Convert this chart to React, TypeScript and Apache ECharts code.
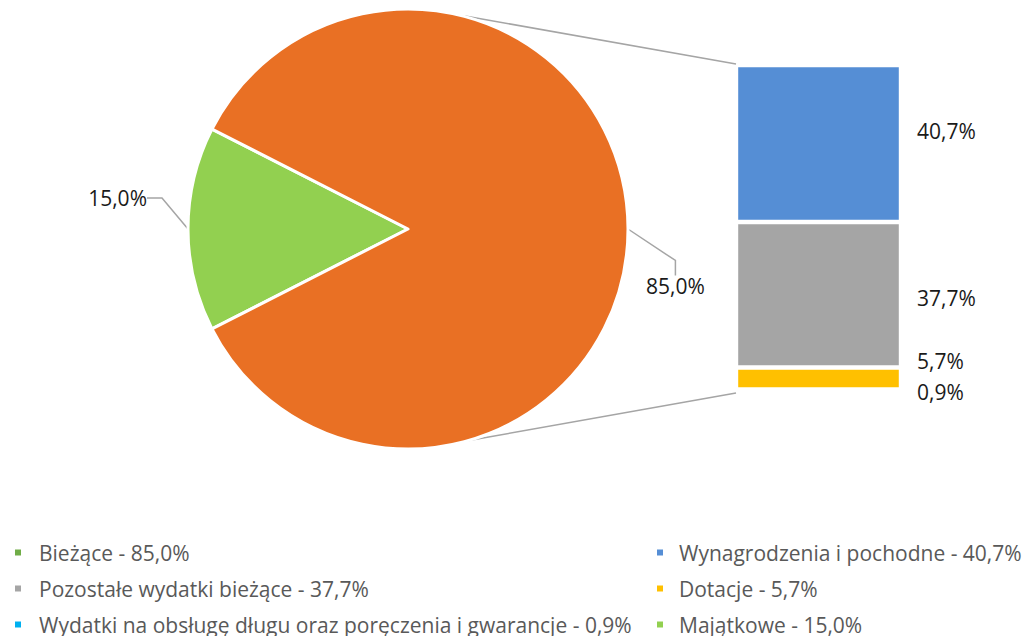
import React, { useEffect, useRef } from "react";
import * as echarts from "echarts";

const pieCategories = ["Majątkowe", "Bieżące"];
const pieValues = [15.0, 85.0];
const pieColors = ["#92D050", "#E97024"];

const barCategories = [
  "Wynagrodzenia i pochodne",
  "Pozostałe wydatki bieżące",
  "Dotacje",
  "Wydatki na obsługę długu oraz poręczenia i gwarancje",
];
const barValues = [40.7, 37.7, 5.7, 0.9];
const barColors = ["#558ED5", "#A5A5A5", "#FFC000", "#00B0F0"];
const barLabelOffsets = [[0, -13], [0, 3], [0, -18], [0, 1]];

const fmt = (v: number) => v.toFixed(1).replace(".", ",") + "%";
const nm = (c: string, v: number) => `${c} - ${fmt(v)}`;

export default function App() {
  const ref = useRef<HTMLDivElement>(null);
  useEffect(() => {
    document.body.style.margin = "0";
    const chart = echarts.init(ref.current!, undefined, { renderer: "svg" });
    const pieNames = pieCategories.map((c, i) => nm(c, pieValues[i]));
    const barNames = barCategories.map((c, i) => nm(c, barValues[i]));
    const font = "'Open Sans', sans-serif";
    const legendBase = {
      orient: "vertical",
      top: 537,
      height: 120,
      itemWidth: 8,
      itemHeight: 8,
      icon: "rect",
      itemGap: 15,
      selectedMode: false,
      textStyle: {
        color: "#595959",
        fontSize: 21,
        fontFamily: font,
        lineHeight: 20,
        padding: [0, 0, 0, 12],
      },
    };
    chart.setOption({
      animation: false,
      legend: [
        {
          ...legendBase,
          left: 8,
          data: [
            { name: pieNames[1], itemStyle: { color: "#70AD47" } },
            { name: barNames[1] },
            { name: barNames[3] },
          ],
        },
        {
          ...legendBase,
          left: 650,
          textStyle: { ...legendBase.textStyle, padding: [0, 0, 0, 10] },
          data: [{ name: barNames[0] }, { name: barNames[2] }, { name: pieNames[0] }],
        },
      ],
      grid: { left: 736, top: 65, width: 165, height: 328, containLabel: false },
      xAxis: { type: "category", data: ["bar"], show: false },
      yAxis: { type: "value", min: 0, max: 85, inverse: true, show: false },
      graphic: [
        {
          type: "line",
          shape: { x1: 465, y1: 16, x2: 736, y2: 64 },
          style: { stroke: "#A5A5A5", lineWidth: 1.5 },
          silent: true,
        },
        {
          type: "line",
          shape: { x1: 466, y1: 441, x2: 736, y2: 393 },
          style: { stroke: "#A5A5A5", lineWidth: 1.5 },
          silent: true,
        },
      ],
      series: [
        {
          type: "pie",
          center: [408, 229],
          radius: 220,
          startAngle: 207,
          clockwise: true,
          avoidLabelOverlap: false,
          itemStyle: { borderColor: "#fff", borderWidth: 3 },
          label: {
            show: true,
            position: "outside",
            formatter: (p: any) => fmt(p.value),
            color: "#1a1a1a",
            fontSize: 21,
            fontFamily: font,
          },
          labelLine: {
            show: true,
            length: 20,
            length2: 15,
            lineStyle: { color: "#A5A5A5", width: 1.5 },
          },
          labelLayout: (p: any) =>
            p.dataIndex === 0
              ? { x: 147, y: 198, align: "right", verticalAlign: "middle" }
              : { x: 646, y: 286, align: "left", verticalAlign: "middle" },
          data: pieNames.map((n, i) => ({
            name: n,
            value: pieValues[i],
            itemStyle: { color: pieColors[i] },
          })),
        },
        ...barNames.map((n, i) => ({
          type: "bar",
          name: n,
          stack: "s",
          barWidth: "100%",
          itemStyle: { color: barColors[i], borderColor: "#fff", borderWidth: 2.2 },
          label: {
            show: true,
            position: "right",
            distance: 16,
            offset: barLabelOffsets[i],
            formatter: () => fmt(barValues[i]),
            color: "#1a1a1a",
            fontSize: 21,
            fontFamily: font,
          },
          data: [barValues[i]],
        })),
      ],
    } as any);
    return () => chart.dispose();
  }, []);
  return <div ref={ref} style={{ width: 1023, height: 636 }} />;
}
